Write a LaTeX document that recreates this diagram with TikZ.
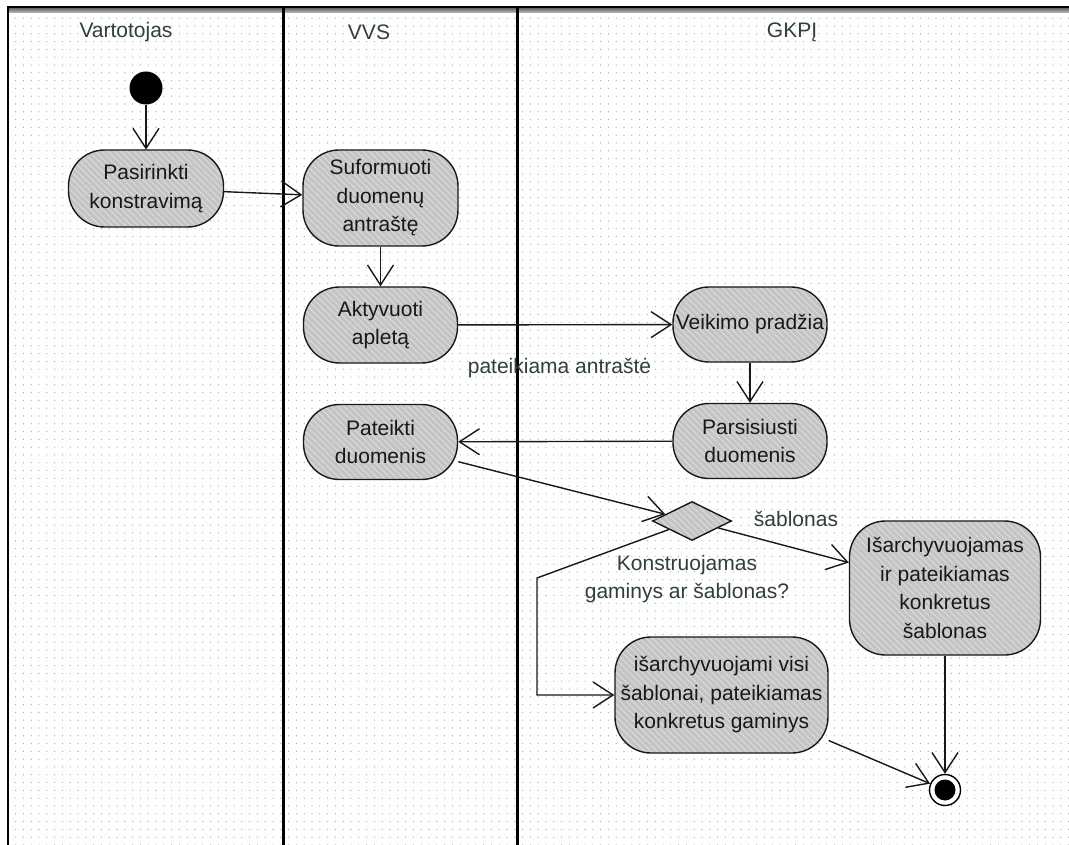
\documentclass[tikz,border=0pt]{standalone}
\usepackage{fontspec}
\setmainfont{Liberation Sans}
\usetikzlibrary{arrows.meta,patterns.meta,shapes.geometric}

\definecolor{nodegray}{RGB}{196,196,196}
\definecolor{hatchcol}{RGB}{226,226,226}
\definecolor{titlecol}{RGB}{48,62,62}
\definecolor{inkcol}{RGB}{24,24,24}
\definecolor{dotcol}{RGB}{170,170,170}

\begin{document}
\begin{tikzpicture}[x=1pt,y=-1pt,
  txt/.style={font=\fontsize{21}{28.5}\selectfont},
  activity/.style={txt, draw=inkcol, line width=1.4pt, rounded corners=36pt,
    preaction={fill=nodegray},
    pattern={Lines[angle=-45,distance=4.5pt,line width=0.7pt]}, pattern color=hatchcol,
    align=center, text=inkcol, inner sep=0pt},
  decision/.style={diamond, draw=inkcol, line width=1.4pt,
    preaction={fill=nodegray},
    pattern={Lines[angle=-45,distance=4.5pt,line width=0.7pt]}, pattern color=hatchcol,
    minimum width=79pt, minimum height=39pt, inner sep=0pt},
  lanetitle/.style={txt, text=titlecol},
  guard/.style={txt, text=titlecol, align=center, inner sep=0pt},
  flow/.style={draw=inkcol, line width=1.4pt,
    -{Straight Barb[length=20pt,width=26pt]}},
  startdot/.style={circle, fill=black, minimum size=33pt, inner sep=0pt},
  enddot/.style={circle, draw=black, line width=1.4pt, fill=white, minimum size=31pt, inner sep=0pt,
    path picture={\fill[black] (path picture bounding box.center) circle (10.5pt);}},
]
\useasboundingbox (0,0) rectangle (1069,845);
\fill[white] (0,0) rectangle (1069,845);

% dotted canvas
\fill[pattern={Dots[distance=7.8pt,radius=0.65pt]}, pattern color=dotcol]
  (9,13) rectangle (1069,845);

% frame
\shade[top color=black!60, bottom color=black!25] (8,8) rectangle (1069,13);
\draw[black, line width=1.5pt] (8,7) -- (1069,7);
\draw[black, line width=2.5pt] (8,6.3) -- (8,845);

% swimlane separators
\draw[black, line width=3pt] (283,8) -- (283,845);
\draw[black, line width=3pt] (517,8) -- (517,845);

% swimlane titles
\node[lanetitle] (laneA) at (126,32) {Vartotojas};
\node[lanetitle] (laneB) at (369,32) {VVS};
\node[lanetitle] (laneC) at (792,32) {GKPĮ};

% activities
\node[startdot] (start) at (146,88) {};
\node[activity, minimum width=155pt, minimum height=77pt] (pas) at (146,188.5) {Pasirinkti\\konstravimą};
\node[activity, minimum width=155pt, minimum height=96pt] (suf) at (380.5,198) {Suformuoti\\duomenų\\antraštę};
\node[activity, minimum width=154pt, minimum height=76pt] (akt) at (380.5,325) {Aktyvuoti\\apletą};
\node[activity, minimum width=154pt, minimum height=75pt] (vei) at (750,324.5) {Veikimo pradžia};
\node[activity, minimum width=154pt, minimum height=75pt] (par) at (750,441) {Parsisiusti\\duomenis};
\node[activity, minimum width=154pt, minimum height=75pt] (pat) at (380.5,442) {Pateikti\\duomenis};
\node[decision] (dia) at (692,521) {};
\node[activity, minimum width=191pt, minimum height=134pt] (isa) at (945,588) {Išarchyvuojamas\\ir pateikiamas\\konkretus\\šablonas};
\node[activity, minimum width=213pt, minimum height=116pt] (vis) at (721.5,695) {išarchyvuojami visi\\šablonai, pateikiamas\\konkretus gaminys};
\node[enddot] (end) at (945,790) {};

% guards and labels
\node[guard] (lblhead) at (559.5,368) {pateikiama antraštė};
\node[guard] (lbltpl) at (796,519) {šablonas};
\node[guard] (lblq) at (687,579) {Konstruojamas\\gaminys ar šablonas?};

% control flow
\coordinate (bend) at (537,578);
\draw[flow] (start) -- (pas);
\draw[flow] (pas) -- (suf);
\draw[flow] (suf) -- (akt);
\draw[flow] (akt) -- (vei);
\draw[flow] (vei) -- (par);
\draw[flow] (par) -- (pat);
\draw[flow] (pat) -- (dia);
\draw[flow] (dia) -- (isa);
\draw[flow] (dia) -- (bend) |- (vis);
\draw[flow] (isa) -- (end);
\draw[flow] (vis) -- (end);
\end{tikzpicture}
\end{document}
